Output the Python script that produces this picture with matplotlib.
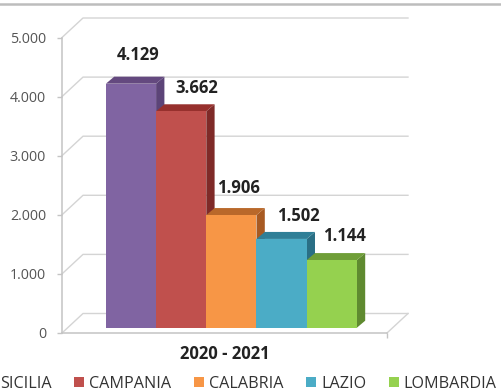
import matplotlib
matplotlib.use("Agg")
import matplotlib.pyplot as plt
from matplotlib.patches import Polygon, Patch
from matplotlib.lines import Line2D

categories = ["SICILIA", "CAMPANIA", "CALABRIA", "LAZIO", "LOMBARDIA"]
values = [4129, 3662, 1906, 1502, 1144]
value_labels = ["4.129", "3.662", "1.906", "1.502", "1.144"]
y_ticks = [0, 1000, 2000, 3000, 4000, 5000]
y_tick_labels = ["0", "1.000", "2.000", "3.000", "4.000", "5.000"]
x_label = "2020 - 2021"

front = ["#8064A2", "#C0504D", "#F79646", "#4BACC6", "#95D14F"]
top = ["#64497F", "#97302D", "#B9682A", "#2F7F97", "#6F9E38"]
side = ["#5C4478", "#7F2A28", "#A85A22", "#2A6F85", "#5F8A30"]
label_dx = [7, 16, 7, 17, 13]      # pixels
label_dy = [28.7, 23, 27, 23, 24]  # pixels

W, H = 502, 392
plt.rcParams["font.family"] = ["Open Sans", "DejaVu Sans"]
fig = plt.figure(figsize=(W / 100, H / 100), dpi=100)
L, R, T, B = 62, 387, 37.5, 333
ax = fig.add_axes([L / W, 1 - B / H, (R - L) / W, (B - T) / H])
bar_px = 50.2
x0 = 131
ax.set_xlim((L - x0) / bar_px, (R - x0) / bar_px)
ax.set_ylim(0, 5000)
ax.patch.set_visible(False)
px_y = 5000 / (B - T)
wall_dx, wall_dy = 21 / bar_px, 19.5 * px_y
grid_c = "#D4D4D4"
xl, xr = ax.get_xlim()

for s in ["top", "right"]:
    ax.spines[s].set_visible(False)
for s in ["left", "bottom"]:
    ax.spines[s].set_color("#C4C4C4")
    ax.spines[s].set_linewidth(1.1)

# back wall grid + floor
for v in y_ticks:
    ax.plot([xl, xl + wall_dx, xr + wall_dx], [v, v + wall_dy, v + wall_dy],
            color=grid_c, lw=1.0, clip_on=False, zorder=1)
ax.plot([xr, xr + wall_dx], [0, wall_dy], color=grid_c, lw=1.0, clip_on=False, zorder=1)

# 3D bars
base = 5.3 * px_y
ddx, ddy = 8.3 / bar_px, 7 * px_y
xs = list(range(len(values)))
for i in reversed(xs):
    x, v = xs[i], values[i]
    l, r = x - .5, x + .5
    t = base + v
    ax.add_patch(Polygon([(r, base), (r + ddx, base + ddy), (r + ddx, t + ddy), (r, t)],
                         fc=side[i], ec="none", clip_on=False, zorder=3 + i * 0.01))
    ax.add_patch(Polygon([(l, t), (l + ddx, t + ddy), (r + ddx, t + ddy), (r, t)],
                         fc=top[i], ec="none", clip_on=False, zorder=3 + i * 0.01))
ax.bar(xs, values, width=1.0, bottom=base, color=front, zorder=4, clip_on=False)

for i, x in enumerate(xs):
    ax.annotate(value_labels[i], (x, base + values[i]),
                xytext=(label_dx[i] * 0.72, label_dy[i] * 0.72), textcoords="offset points",
                ha="center", va="center", fontsize=12, fontweight="bold",
                color="#222222", zorder=6, annotation_clip=False)

ax.set_yticks(y_ticks, y_tick_labels)
ax.tick_params(axis="y", length=3.5, width=1, color="#C4C4C4", labelcolor="#555555",
               labelsize=10.3, pad=8)
ax.set_xticks([xr], [""])
ax.tick_params(axis="x", length=3.5, width=1, color="#C4C4C4")
ax.set_xlabel(x_label, fontsize=12, fontweight="bold", color="#222222", labelpad=1.5)

handles = [Patch(fc=c, ec="none") for c in front]
fig.legend(handles, categories, ncol=5, loc="lower left",
           bbox_to_anchor=(-15 / W, 0.5 / H), frameon=False, fontsize=11.6,
           labelcolor="#333333", handlelength=0.62, handleheight=0.62, handletextpad=0.33,
           columnspacing=1.38, borderpad=0, borderaxespad=0)

# page rule at the top
fig.add_artist(Line2D([0, 1], [1 - 4 / H, 1 - 4 / H], color="#BDBDBD", lw=1.8))

fig.savefig("out.png", dpi=100)
